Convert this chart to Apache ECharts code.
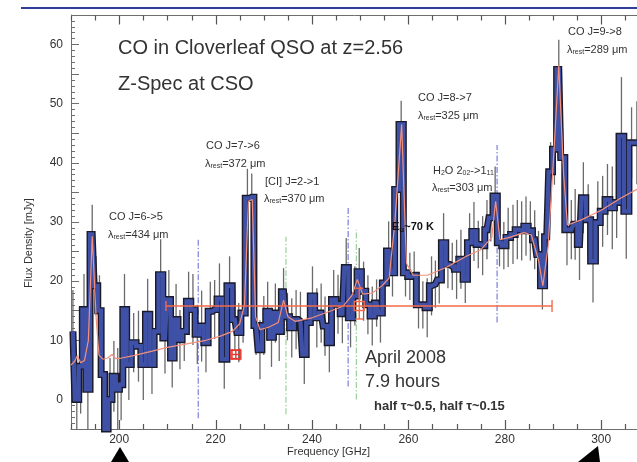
<!DOCTYPE html>
<html>
<head>
<meta charset="utf-8">
<script src="https://cdn.jsdelivr.net/npm/echarts@6/dist/echarts.min.js"></script>
<style>
html,body{margin:0;padding:0;background:#fff;}
#c{width:637px;height:462px;}
</style>
</head>
<body>
<div id="c"></div>
<script>
// ---- spectrum channels (GHz) ----
const freqs = [190.4,191.2,192.0,192.7,193.5,194.4,195.2,195.9,196.6,197.3,198.1,198.9,199.7,200.4,
201.1,202.0,203.0,204.0,205.0,205.9,206.8,207.7,208.6,209.5,210.3,211.0,211.8,212.6,
213.5,214.4,215.3,216.2,217.1,218.0,218.9,219.8,220.8,221.8,222.9,224.0,224.8,225.7,226.6,227.5,
228.4,229.2,230.0,230.8,231.6,232.4,233.2,234.1,234.9,235.8,236.7,237.6,238.4,239.2,240.1,241.0,241.9,242.7,243.6,244.5,245.4,246.3,247.1,248.0,248.9,249.8,250.7,251.6,252.5,253.4,254.2,255.0,255.9,256.7,257.6,258.5,
259.4,260.3,261.2,262.1,263.0,263.9,264.8,265.6,266.4,267.3,268.2,269.1,270.0,270.9,271.8,272.7,273.6,274.5,275.4,276.3,277.1,278.0,278.9,279.8,280.7,281.7,282.6,283.5,284.4,285.3,286.2,287.0,287.8,
288.7,289.5,290.3,291.2,292.0,292.9,293.8,294.6,295.5,296.3,297.3,298.3,299.3,300.3,301.3,302.3,303.2,304.2,305.2,306.3,307.4];
// ---- flux density (mJy) ----
const flux = [11.5,0.0,5.6,15.2,1.7,27.9,19.2,15.0,4.2,-5.5,0.0,3.9,1.7,2.5,
15.2,5.9,9.6,9.0,5.9,14.4,5.9,11.5,21.1,10.4,16.9,7.0,13.5,10.1,
11.5,16.6,15.2,11.0,12.4,9.6,14.9,15.2,17.0,6.8,19.2,13.5,11.3,14.6,34.0,34.2,
12.5,8.4,12.5,14.9,10.5,14.6,11.5,18.2,14.0,12.1,13.5,13.2,7.6,13.0,17.5,13.8,14.6,12.4,9.6,16.9,16.1,14.5,22.3,13.8,17.5,21.6,18.3,16.0,14.1,16.3,14.6,19.7,25.1,21.4,35.5,46.5,
21.4,20.8,21.0,16.0,16.0,15.5,19.2,19.5,20.2,26.5,22.8,22.5,22.0,23.7,20.3,26.5,28.4,26.2,26.0,28.7,30.7,34.4,26.5,26.0,27.4,27.9,28.7,28.5,29.3,28.5,27.0,24.5,19.2,
27.5,38.5,42.3,55.8,40.9,28.7,28.7,29.6,26.2,34.1,30.4,23.4,29.9,31.8,33.8,32.4,33.3,44.5,31.8,43.4,43.4];
// ---- 1-sigma errors (mJy) ----
const errs = [7,6,8,6,7,5,5,6,7,6,7,6,7,6,
6,6,5,6,6,6,5,5,6,6,5,5,6,5,
5,5,6,5,6,5,5,5,6,5,5,5,5,5,5,4,
5,5,5,5,5,5,5,4,4,5,5,5,5,5,5,5,5,5,5,5,5,5,5,5,5,4,5,5,5,4,5,4,5,4,4,4,
4,4,4,4,4,5,5,4,4,5,4,4,5,5,4,5,5,4,5,5,4,5,4,4,5,5,5,5,5,5,5,4,4,
5,5,6,5,5,6,5,6,6,6,6,7,7,6,6,7,6,10,8,6,7];
// ---- model fit ----
const modelF = [190.0,190.8,191.3,192.0,192.8,193.6,194.4,195.2,195.8,196.6,197.6,198.5,199.3,200.5,203,206,210,214,218,221,223.5,225,226,226.8,227.6,228.3,229.2,231,233,234.1,235.0,236.5,240,244,246.5,248.3,249.4,250.5,252.5,254.5,256,257.2,258.6,259.6,261,264,268,272,275,277.3,278.1,279,281,284,285.5,287,287.9,289.0,290.2,291.2,292.2,293,296,300,304,308];
const modelV = [5.8,6.5,7.4,6.2,6.6,10,27.6,14,7.5,6.8,7.0,7.6,6.9,7.0,7.4,8.0,8.8,9.4,10.0,10.7,11.5,12.8,16,33.5,33.8,14,11.8,12.2,13,16.8,14,13.2,13.8,15,15.8,17.6,20.3,17.8,18.0,19.2,20.5,30,46.5,23,21,21,22.4,24.2,25.3,27.4,33.5,27,27.4,28.2,27.8,23.5,19.2,26,42,56.5,38,29.5,30.4,32,34,35.8];
// ---- continuum estimates: [x, y, xlo, xhi, ylo, yhi] ----
const contPoints = [[249.8,15.8,209.7,289.8,13.6,18.8],[224.2,7.6,223.4,225.0,6.9,8.3]];
// ---- line markers (dash-dot) ----
const markFreq = [216.4,234.6,247.5,249.2,278.4];
const markLo = [-3.2,-2.5,2.2,0.0,13.0];
const markHi = [27.0,27.5,32.4,28.7,43.0];
const markColor = ['#7b7fe0','#9bd09b','#7b7fe0','#9bd09b','#7b7fe0'];
// ---- tick labels / tick values ----
const xTickLabels = [200,220,240,260,280,300];
const xMinorTicks = [190,195,200,205,210,215,220,225,230,235,240,245,250,255,260,265,270,275,280,285,290,295,300,305,310];
const yTickLabels = [0,10,20,30,40,50,60];

const specData = freqs.map((f,i)=>[f,flux[i]]);
const errData = freqs.map((f,i)=>[f,flux[i],errs[i]]);
const modelData = modelF.map((f,i)=>[f,modelV[i]]);
const markData = markFreq.map((f,i)=>[f,markLo[i],markHi[i],i]);
const frameTickData = xMinorTicks.map(v=>[v, xTickLabels.indexOf(v)>=0 ? 1 : 0]);

const chart = echarts.init(document.getElementById('c'), null, {renderer:'canvas'});
const FONT = 'Liberation Sans, Arial, Helvetica, sans-serif';
const axisCol = '#6e6e6e';
const tickCol = '#555555';

function lam(x, y, val){
  return {type:'text', left:x, top:y, z:100, style:{
    text:'λ{s|rest}=' + val + ' μm',
    rich:{s:{fontSize:7, fill:'#333', padding:[6,0,0,0], fontFamily:FONT}},
    fontSize:11, fill:'#333', fontFamily:FONT}};
}
function lbl(x, y, t, size, weight){
  return {type:'text', left:x, top:y, z:100, style:{text:t, fontSize:size||11, fill:'#333', fontFamily:FONT, fontWeight:weight||'normal'}};
}

const option = {
  animation:false,
  backgroundColor:'#fff',
  grid:{left:71, top:15, width:578.4, height:414, show:false, containLabel:false, outerBoundsMode:'none'},
  xAxis:{type:'value', min:190, max:310, interval:5, position:'bottom',
    axisLine:{show:true, onZero:false, lineStyle:{color:axisCol, width:1}},
    axisTick:{show:false},
    axisLabel:{show:true, margin:5, fontSize:12, color:'#333', fontFamily:FONT,
      formatter:(v)=> xTickLabels.indexOf(v)>=0 ? String(v) : ''},
    splitLine:{show:false}},
  yAxis:{type:'value', min:-5, max:65, interval:5,
     axisLine:{show:true, onZero:false, lineStyle:{color:axisCol, width:1}},
     axisTick:{show:true, inside:true, length:8, lineStyle:{color:axisCol}},
     minorTick:{show:true, splitNumber:5, length:4, lineStyle:{color:axisCol}},
     axisLabel:{margin:8, fontSize:12, color:'#333', fontFamily:FONT,
       formatter:(v)=> yTickLabels.indexOf(v)>=0 ? String(v) : ''},
     splitLine:{show:false}, minorSplitLine:{show:false}},
  series:[
    {type:'custom', name:'frameTicks', clip:false, z:7, silent:true,
     data:frameTickData,
     renderItem:(params, api)=>{
       const cs = params.coordSys;
       const x = Math.round(api.coord([api.value(0), 0])[0]) + 0.5;
       const yb = Math.round(cs.y + cs.height);
       const yt = Math.round(cs.y) + 0.5;
       const len = api.value(1) ? 9 : 5;
       const st = {stroke:tickCol, lineWidth:1.2};
       const ch = [
         {type:'line', shape:{x1:x, y1:yb, x2:x, y2:yb-len}, style:st},
         {type:'line', shape:{x1:x, y1:yt, x2:x, y2:yt+len}, style:st}
       ];
       if (params.dataIndex === 0) {
         ch.push({type:'line', shape:{x1:cs.x, y1:yt, x2:cs.x+cs.width, y2:yt}, style:{stroke:axisCol, lineWidth:1}});
       }
       return {type:'group', children:ch};
     }},
    {type:'custom', name:'markers', clip:true, z:1, silent:true,
     data:markData,
     renderItem:(params, api)=>{
       const a = api.coord([api.value(0), api.value(1)]);
       const b = api.coord([api.value(0), api.value(2)]);
       return {type:'line', shape:{x1:a[0],y1:a[1],x2:b[0],y2:b[1]},
         style:{stroke:markColor[api.value(3)], lineWidth:1.2, lineDash:[6,2,1.5,2]}};
     }},
    {type:'custom', name:'errors', clip:true, z:2, silent:true,
     data:errData,
     renderItem:(params, api)=>{
       const x = api.value(0), y = api.value(1), e = api.value(2);
       const a = api.coord([x, y-e]);
       const b = api.coord([x, y+e]);
       return {type:'line', shape:{x1:a[0],y1:a[1],x2:b[0],y2:b[1]},
         style:{stroke:'#6a6a6a', lineWidth:1.3}};
     }},
    {type:'line', name:'outline', data:specData, step:'middle', showSymbol:false, symbol:'none',
     z:3, lineStyle:{color:'#1a1a2a', width:7, join:'miter', cap:'butt'}, silent:true},
    {type:'line', name:'spectrum', data:specData, step:'middle', showSymbol:false, symbol:'none',
     z:4, lineStyle:{color:'#3f51a6', width:4.2, join:'miter', cap:'butt'}, silent:true},
    {type:'line', name:'model', data:modelData, showSymbol:false, symbol:'none', z:5,
     lineStyle:{color:'#f2907c', width:1.2}, silent:true},
    {type:'custom', name:'continuum', clip:true, z:6, silent:true,
     data:contPoints,
     renderItem:(params, api)=>{
       const c = api.coord([api.value(0), api.value(1)]);
       const l = api.coord([api.value(2), api.value(1)]);
       const r = api.coord([api.value(3), api.value(1)]);
       const lo = api.coord([api.value(0), api.value(4)]);
       const hi = api.coord([api.value(0), api.value(5)]);
       const col = params.dataIndex === 0 ? '#f26a48' : '#e8352b';
       const st = {stroke:col, lineWidth:1.4, fill:null};
       const ch = [
         {type:'line', shape:{x1:l[0],y1:c[1],x2:r[0],y2:c[1]}, style:st},
         {type:'line', shape:{x1:l[0],y1:c[1]-5,x2:l[0],y2:c[1]+5}, style:st},
         {type:'line', shape:{x1:r[0],y1:c[1]-6,x2:r[0],y2:c[1]+6}, style:st},
         {type:'line', shape:{x1:c[0],y1:lo[1],x2:c[0],y2:hi[1]}, style:st},
         {type:'line', shape:{x1:c[0]-4,y1:lo[1],x2:c[0]+4,y2:lo[1]}, style:st},
         {type:'line', shape:{x1:c[0]-4,y1:hi[1],x2:c[0]+4,y2:hi[1]}, style:st},
         {type:'rect', shape:{x:c[0]-5,y:c[1]-4.5,width:10,height:9}, style:st}
       ];
       return {type:'group', children:ch};
     }}
  ],
  graphic:[
    {type:'line', shape:{x1:21,y1:8,x2:637,y2:8}, style:{stroke:'#2d3f99', lineWidth:2}, z:100},
    lbl(118, 38, 'CO in Cloverleaf QSO at z=2.56', 20),
    lbl(118, 74, 'Z-Spec at CSO', 20),
    lbl(109, 211, 'CO J=6->5'),
    lam(108, 229, '434'),
    lbl(206, 140, 'CO J=7->6'),
    lam(205, 158, '372'),
    lbl(265, 176, '[CI] J=2->1'),
    lam(264, 193, '370'),
    lbl(418, 92, 'CO J=8->7'),
    lam(418, 110, '325'),
    {type:'text', left:433, top:165, z:100, style:{
      text:'H{s|2}O 2{s|02}->1{s|11}',
      rich:{s:{fontSize:7, fill:'#333', padding:[6,0,0,0], fontFamily:FONT}},
      fontSize:11, fill:'#333', fontFamily:FONT}},
    lam(432, 182, '303'),
    lbl(568, 26, 'CO J=9->8'),
    lam(567, 44, '289'),
    {type:'text', left:392, top:221, z:100, style:{
      text:'E{s|u}~70 K',
      rich:{s:{fontSize:8, fill:'#111', padding:[6,0,0,0], fontFamily:FONT, fontWeight:'bold'}},
      fontSize:11, fill:'#111', fontFamily:FONT, fontWeight:'bold'}},
    lbl(365, 349, 'April 2008', 18),
    lbl(365, 373, '7.9 hours', 18),
    lbl(374, 400, 'half τ~0.5, half τ~0.15', 13, 'bold'),
    {type:'text', left:287, top:446, z:100, style:{text:'Frequency [GHz]', fontSize:11, fill:'#333', fontFamily:FONT}},
    {type:'text', x:29, y:243, rotation:Math.PI/2, z:100, style:{text:'Flux Density [mJy]', fontSize:11, fill:'#333', fontFamily:FONT, align:'center', verticalAlign:'middle'}},
    {type:'polygon', shape:{points:[[120,447],[111,462],[129,462]]}, style:{fill:'#000'}, z:100},
    {type:'polygon', shape:{points:[[598,446],[578,462],[600,462]]}, style:{fill:'#000'}, z:100}
  ]
};
chart.setOption(option);
</script>
</body>
</html>
